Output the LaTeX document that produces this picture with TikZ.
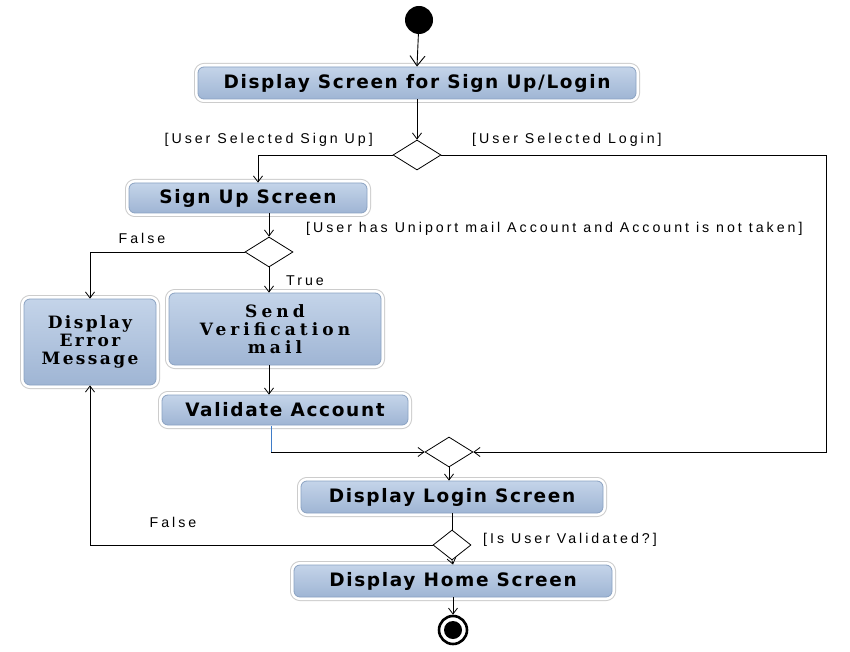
\documentclass[tikz,border=0pt]{standalone}
\usepackage{fontspec}
\setmainfont{DejaVu Sans}
\newfontfamily\lblf{Liberation Sans}[LetterSpace=21]
\newfontfamily\bxf{DejaVu Sans}[LetterSpace=9]
\newfontfamily\srf{DejaVu Serif}[LetterSpace=14]
\newfontfamily\srfw{DejaVu Serif}[LetterSpace=24]
\usetikzlibrary{arrows.meta,shapes.geometric,calc}
\definecolor{boxtop}{HTML}{C4D4E9}
\definecolor{boxbot}{HTML}{9FB5D4}
\definecolor{boxline}{HTML}{8AA2C2}
\definecolor{bluel}{HTML}{3F7CC8}
\begin{document}
\begin{tikzpicture}[x=1pt,y=-1pt,
  act/.style={rectangle, rounded corners=6pt, draw=boxline, line width=0.8pt,
    top color=boxtop, bottom color=boxbot,
    preaction={draw=black!20, line width=8pt},
    preaction={draw=white, line width=6pt},
    inner sep=0pt, font=\bxf\bfseries\fontsize{18.5}{21}\selectfont},
  sact/.style={act, align=center, font=\srf\bfseries\fontsize{17}{18}\selectfont},
  sactw/.style={act, align=center, font=\srfw\bfseries\fontsize{17}{18}\selectfont},
  dec/.style={diamond, draw, line width=0.8pt, fill=white, minimum width=48pt,
    minimum height=30pt, inner sep=0pt},
  arr/.style={-{Straight Barb[length=6pt,width=9pt]}, line width=0.8pt},
  arrbig/.style={-{Straight Barb[length=10pt,width=15pt]}, line width=0.9pt},
  ln/.style={line width=0.8pt},
  lbl/.style={font=\lblf\fontsize{14.2}{16}\selectfont, inner sep=0pt}]
\useasboundingbox (0,0) rectangle (850,652);
\fill[white] (0,0) rectangle (850,652);

% nodes
\node[circle, fill=black, minimum size=28pt, inner sep=0pt] (start) at (419,20) {};
\node[act, minimum width=438pt, minimum height=32pt] (b1) at (417,83) {Display Screen for Sign Up/Login};
\node[dec] (d1) at (417,155) {};
\node[act, minimum width=238pt, minimum height=30pt] (signup) at (248,198) {Sign Up Screen};
\node[dec] (d2) at (269,252) {};
\node[sact, minimum width=132pt, minimum height=86pt] (err) at (90,342) {Display\\Error\\Message};
\node[sactw, minimum width=212pt, minimum height=72pt] (send) at (275,329) {Send\\Verification\\mail};
\node[act, minimum width=246pt, minimum height=30pt] (val) at (285,410) {Validate Account};
\node[dec] (d3) at (449,452) {};
\node[act, minimum width=302pt, minimum height=32pt] (login) at (452,497) {Display Login Screen};
\node[dec, minimum width=38pt] (d4) at (452,545) {};
\node[act, minimum width=318pt, minimum height=32pt] (home) at (453,581) {Display Home Screen};
\node[circle, draw, line width=2.6pt, minimum size=28pt, inner sep=0pt] (end) at (453,630) {};
\node[circle, fill=black, minimum size=18pt, inner sep=0pt] (endin) at (end) {};

% labels
\node[lbl, anchor=east] (lsu) at (373,140) {[User Selected Sign Up]};
\node[lbl, anchor=west] (lli) at (472,140) {[User Selected Login]};
\node[lbl, anchor=west] (lcond) at (306,229) {[User has Uniport mail Account and Account is not taken]};
\node[lbl] (lf1) at (142,238) {False};
\node[lbl, anchor=west] (ltrue) at (286,281) {True};
\node[lbl] (lf2) at (173,522) {False};
\node[lbl, anchor=west] (lval) at (483,540) {[Is User Validated?]};

% coordinates
\coordinate (r1) at (826,155);
\coordinate (vb) at (271,452);
\coordinate (vt) at (271,426);

% connectors
\draw[arrbig] (start) -- (b1.north);
\draw[arr] (b1.south) -- (d1.north);
\draw[arr] (d1.west) -| ([xshift=10pt]signup.north);
\draw[arr] (d1.east) -- (r1) |- (d3.east);
\draw[arr] (signup.south -| d2.north) -- (d2.north);
\draw[arr] (d2.west) -| (err.north);
\draw[arr] (d2.south) -- (d2.south |- send.north);
\draw[arr] (d2.south |- send.south) -- (d2.south |- val.north);
\draw[line width=0.8pt, draw=bluel] (vt) -- (vb);
\draw[arr] (vb) -- (d3.west);
\draw[arr] (d3.south) -- (d3.south |- login.north);
\draw[ln] (d4.north |- login.south) -- (d4.north);
\draw[arr] (d4.west) -| (err.south);
\draw[arr] (d4.south) -- (home.north);
\draw[arr] (home.south) -- (end.north);
\end{tikzpicture}
\end{document}
